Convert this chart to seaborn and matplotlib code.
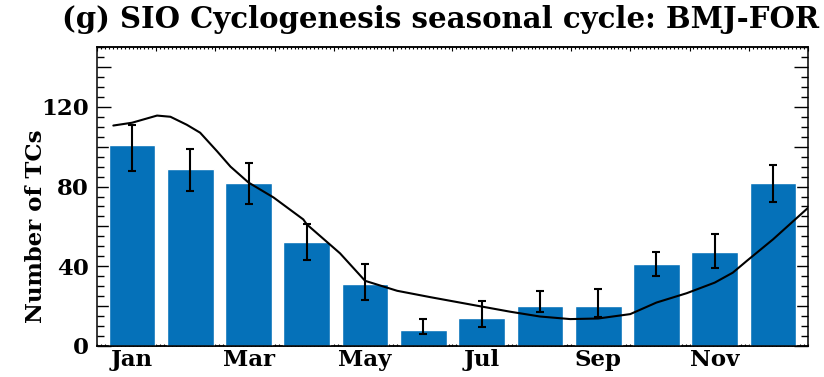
import numpy as np
import pandas as pd
import matplotlib
matplotlib.use("Agg")
import matplotlib.pyplot as plt
from matplotlib.ticker import MultipleLocator, FuncFormatter, NullFormatter
import seaborn as sns

# Monthly cyclogenesis counts (bars) with their uncertainty range
months = ["Jan", "Feb", "Mar", "Apr", "May", "Jun",
          "Jul", "Aug", "Sep", "Oct", "Nov", "Dec"]
counts = [101, 89, 82, 52, 31, 8, 14, 20, 20, 41, 47, 82]
err_top = [111, 99, 92, 61, 41, 13.5, 22.5, 27.5, 28.5, 47, 56, 91]
err_bottom = [88, 78, 71, 43, 23, 6, 9.5, 17, 14.5, 35, 39, 72]

# Smoothed seasonal cycle (month index, count)
curve_month = [-0.32, 0.0, 0.43, 0.66, 0.94, 1.17, 1.46, 1.69, 2.0, 2.43,
               2.94, 3.0, 3.57, 4.0, 4.55, 5.12, 6.0, 6.49, 7.0, 7.52,
               8.0, 8.55, 9.0, 9.52, 10.0, 10.31, 10.55, 11.0, 11.6]
curve_count = [110.6, 112.0, 115.6, 115.0, 111.0, 107.0, 97.7, 90.0, 82.0, 74.5,
               63.5, 61.0, 46.5, 32.7, 27.7, 24.5, 19.8, 17.2, 14.8, 13.5,
               13.8, 16.0, 21.8, 26.5, 31.8, 36.8, 42.7, 53.5, 69.3]

sns.set_style("ticks")
plt.rcParams["font.family"] = ["DejaVu Serif"]
plt.rcParams["font.weight"] = "bold"
plt.rcParams["axes.labelweight"] = "bold"
for key in ("text.color", "axes.labelcolor", "xtick.color", "ytick.color",
            "axes.edgecolor"):
    plt.rcParams[key] = "black"

bar_color = "#0571b9"

fig = plt.figure(figsize=(8.24, 3.77), dpi=100)
ax = fig.add_axes([97 / 824, 31 / 377, 711 / 824, 299 / 377])

idx = np.arange(len(months))
bars = pd.DataFrame({"month": idx, "count": counts})
sns.barplot(data=bars, x="month", y="count", native_scale=True, color=bar_color,
            saturation=1, width=0.8, errorbar=None, ax=ax, zorder=1)

lo = np.array(counts) - np.array(err_bottom)
hi = np.array(err_top) - np.array(counts)
ax.errorbar(idx, counts, yerr=[lo, hi], fmt="none", ecolor="black",
            elinewidth=1.5, capsize=2.9, capthick=1.5, zorder=4)

curve = pd.DataFrame({"m": curve_month, "n": curve_count})
sns.lineplot(data=curve, x="m", y="n", sort=False, estimator=None,
             color="black", linewidth=1.5, ax=ax, zorder=5)

ax.set_xlim(-0.6, 11.6)
ax.set_ylim(0, 150)

# Month ticks on the bottom, labelled every other month
ax.set_xticks(idx)
ax.set_xticklabels([m if i % 2 == 0 else "" for i, m in enumerate(months)])
ax.tick_params(axis="x", which="major", direction="in", length=3.6, width=1.1,
               top=False, pad=2, labelsize=16.5)
ax.tick_params(axis="x", which="minor", bottom=False, top=False)

# Count ticks on both sides
ax.yaxis.set_major_locator(MultipleLocator(20))
ax.yaxis.set_minor_locator(MultipleLocator(5))
ax.yaxis.set_major_formatter(FuncFormatter(lambda v, p: f"{int(v)}" if int(v) % 40 == 0 else ""))
ax.tick_params(axis="y", which="major", direction="in", length=10, width=1.0,
               left=True, right=True, pad=6, labelsize=16.5)
ax.tick_params(axis="y", which="minor", direction="in", length=5, width=1.0,
               left=True, right=True)

for s in ax.spines.values():
    s.set_visible(True)
    s.set_linewidth(1.1)
    s.set_color("black")

ax.set_xlabel("")
ax.set_ylabel("Number of TCs", fontsize=16.5, fontweight="bold")
ax.yaxis.set_label_coords(-0.07, 0.40)


# Day-of-year scale along the top and bottom edges
def to_day(x):
    return (np.asarray(x) + 0.6) * 360 / 12.2


def to_month(d):
    return np.asarray(d) * 12.2 / 360 - 0.6


top = ax.secondary_xaxis("top", functions=(to_day, to_month))
top.xaxis.set_major_locator(MultipleLocator(30))
top.xaxis.set_minor_locator(MultipleLocator(2))
top.xaxis.set_major_formatter(NullFormatter())
top.tick_params(which="major", direction="in", length=3, width=0.8)
top.tick_params(which="minor", direction="in", length=1.5, width=0.8)
top.spines["top"].set_linewidth(1.1)

bottom = ax.secondary_xaxis("bottom", functions=(to_day, to_month))
bottom.set_zorder(0)
bottom.xaxis.set_major_locator(MultipleLocator(30))
bottom.xaxis.set_minor_locator(MultipleLocator(2))
bottom.xaxis.set_major_formatter(NullFormatter())
bottom.tick_params(which="both", direction="in", length=1.5, width=0.8)
bottom.spines["bottom"].set_linewidth(1.1)

fig.text(441 / 824, 1 - 19 / 377, "(g) SIO Cyclogenesis seasonal cycle: BMJ-FOR",
         ha="center", va="center", fontsize=21, fontweight="bold")

fig.savefig("out.png", dpi=100)
